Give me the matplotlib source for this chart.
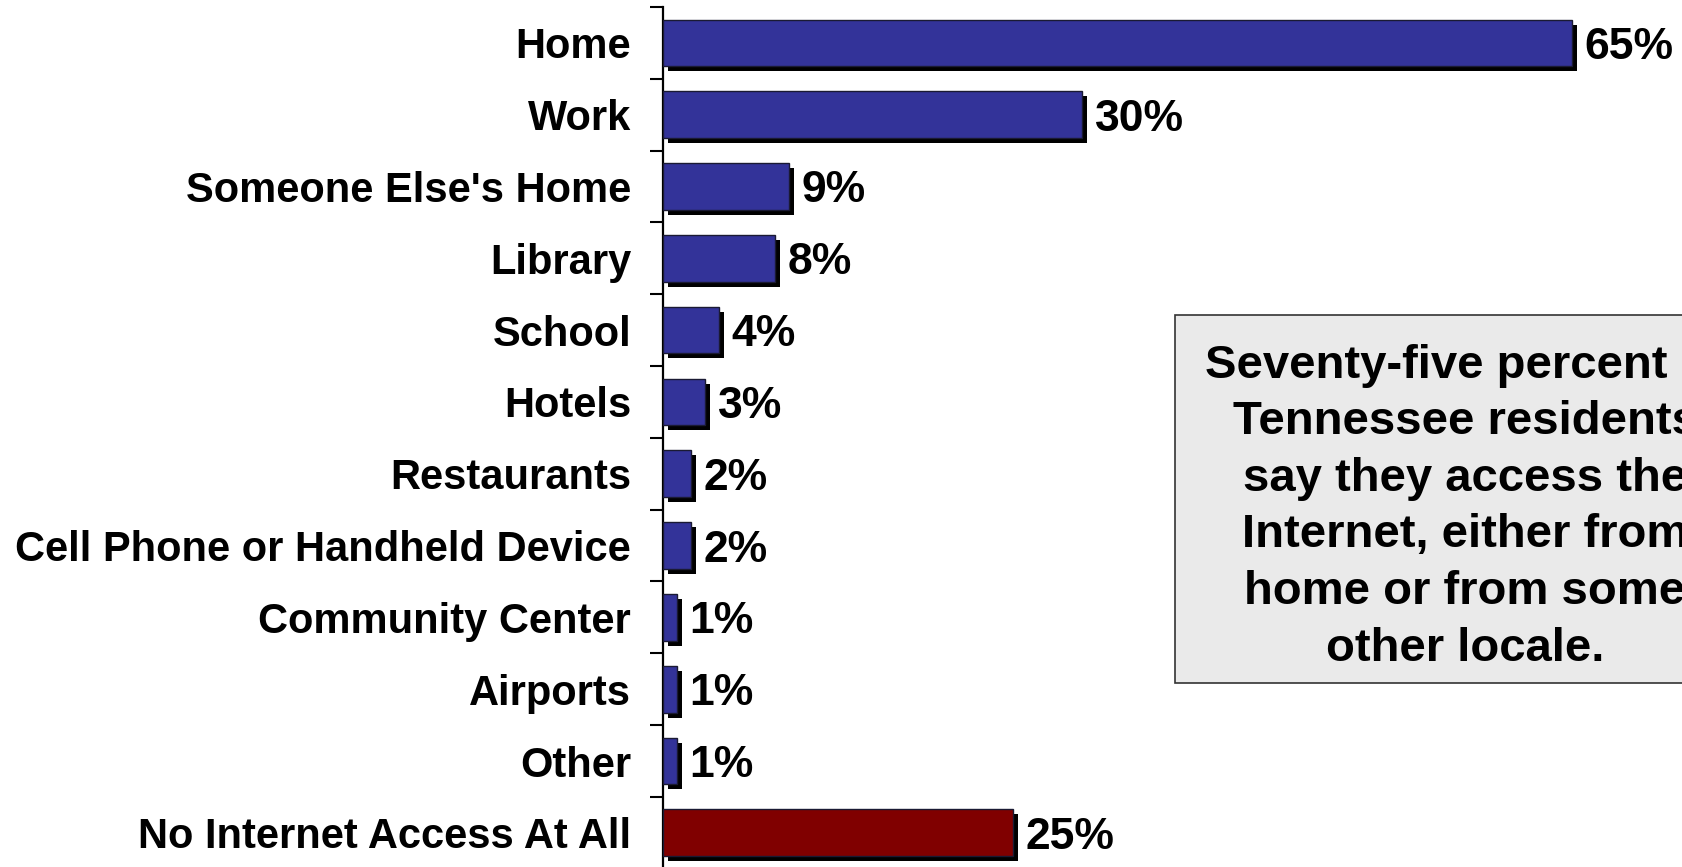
"""
Internet access locations bar chart (Tennessee residents).
"""

import matplotlib

matplotlib.use("Agg")

import matplotlib.patheffects as pe
import matplotlib.pyplot as plt
import numpy as np
from matplotlib.patches import Rectangle

CATEGORIES = [
    "Home",
    "Work",
    "Someone Else's Home",
    "Library",
    "School",
    "Hotels",
    "Restaurants",
    "Cell Phone or Handheld Device",
    "Community Center",
    "Airports",
    "Other",
    "No Internet Access At All",
]
VALUES = [65, 30, 9, 8, 4, 3, 2, 2, 1, 1, 1, 25]
BAR_COLORS = ["#333399"] * 11 + ["#800000"]
NOTE_LINES = [
    "Seventy-five percent of",
    "Tennessee residents",
    "say they access the",
    "Internet, either from",
    "home or from some",
    "other locale.",
]

plt.rcParams["font.family"] = ["Liberation Sans", "DejaVu Sans"]
plt.rcParams["font.weight"] = "bold"

fig = plt.figure(figsize=(16.83, 8.67), dpi=100)
ax = fig.add_axes([0.394, -0.002, 0.598, 0.994])

positions = np.arange(len(CATEGORIES))
shadow = [pe.SimplePatchShadow(offset=(3.6, -3.6), shadow_rgbFace="black", alpha=1.0), pe.Normal()]
bars = ax.barh(
    positions,
    VALUES,
    height=0.65,
    color=BAR_COLORS,
    edgecolor="#1a1a33",
    linewidth=1.0,
    zorder=3,
)
for bar in bars:
    bar.set_path_effects(shadow)

for pos, value in zip(positions, VALUES):
    ax.annotate(
        f"{value}%",
        (value, pos),
        textcoords="offset points",
        xytext=(9, 0),
        ha="left",
        va="center_baseline",
        fontsize=32,
        fontweight="bold",
        annotation_clip=False,
    )

ax.set_xlim(0, 72)
ax.set_ylim(len(CATEGORIES) - 0.5, -0.5)
ax.set_yticks(positions)
ax.set_yticklabels(CATEGORIES, fontsize=30, fontweight="bold")
ax.set_yticks(np.arange(len(CATEGORIES) + 1) - 0.5, minor=True)
ax.tick_params(axis="y", which="major", length=0, pad=23)
ax.tick_params(axis="y", which="minor", length=9.4, width=1.5, direction="out")
ax.set_xticks([])
for side in ("top", "right", "bottom"):
    ax.spines[side].set_visible(False)
ax.spines["left"].set_linewidth(1.6)
ax.patch.set_visible(False)

# note box on the right, running off the edge as in the original slide
fig.patches.append(
    Rectangle(
        (0.698, 0.2122),
        0.345,
        0.4245,
        transform=fig.transFigure,
        facecolor="#EAEAEA",
        edgecolor="#333333",
        linewidth=1.2,
    )
)
fig.text(
    0.8705,
    0.415,
    "\n".join(NOTE_LINES),
    ha="center",
    va="center",
    fontsize=34,
    fontweight="bold",
    linespacing=1.37,
    multialignment="center",
)

fig.savefig("out.png", dpi=100, facecolor="white")
